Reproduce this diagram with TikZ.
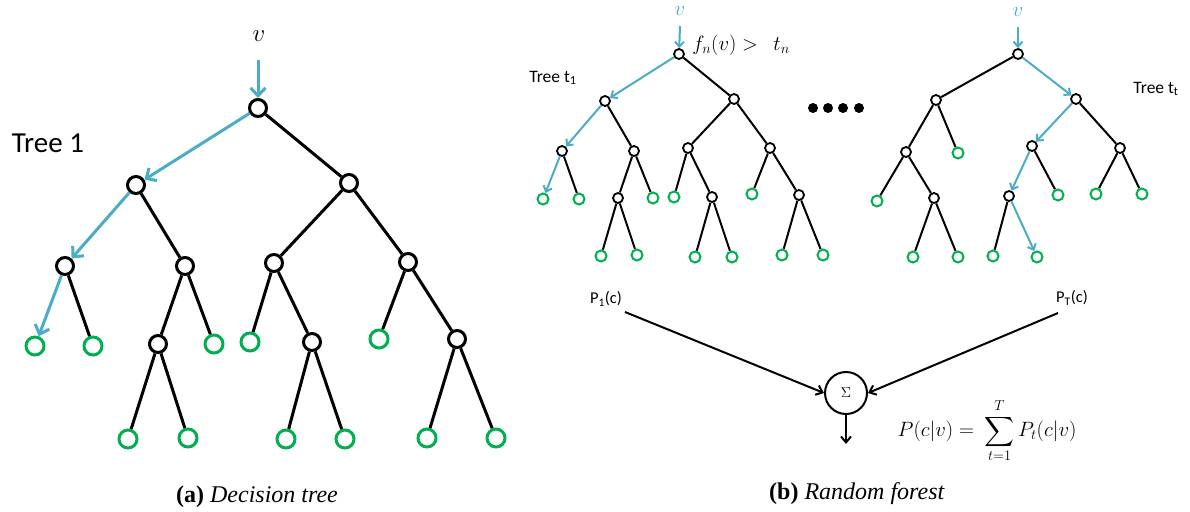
\documentclass[tikz,border=0pt]{standalone}
\usepackage{fontspec}
\usepackage{amsmath}
\setmainfont{Liberation Serif}
\newfontfamily\calibri{Carlito}
\usetikzlibrary{arrows.meta}
\definecolor{pathblue}{HTML}{4BACC6}
\definecolor{leafgreen}{HTML}{00B050}
\begin{document}
\begin{tikzpicture}[x=1pt,y=-1pt,
  bin/.style={circle,draw=black,line width=3pt,minimum size=17pt,inner sep=0pt,fill=white},
  blf/.style={circle,draw=leafgreen,line width=3pt,minimum size=18pt,inner sep=0pt},
  sin/.style={circle,draw=black,line width=1.8pt,minimum size=10pt,inner sep=0pt,fill=white},
  slf/.style={circle,draw=leafgreen,line width=2pt,minimum size=11pt,inner sep=0pt},
  bedge/.style={draw=black,line width=3pt},
  bblue/.style={draw=pathblue,line width=3pt,-{Straight Barb[length=8pt,width=15pt]}},
  sedge/.style={draw=black,line width=2pt},
  sblue/.style={draw=pathblue,line width=2pt,-{Straight Barb[length=5pt,width=9pt]}},
  karrow/.style={draw=black,line width=2pt,-{Straight Barb[length=6pt,width=10pt]}},
  cal/.style={font=\calibri\fontsize{#1}{#1}\selectfont},
  dotnode/.style={circle,fill=black,minimum size=10pt,inner sep=0pt}
]
\useasboundingbox (0,0) rectangle (1190,511);

% ===== Left decision tree =====
\node[font=\fontsize{37}{37}\selectfont] (vL) at (259,36) {$v$};
\coordinate (vLs) at (258,60);
\node[cal=29] (tree1) at (48,143) {Tree 1};
\node[bin] (r) at (258,108) {};
\node[bin] (a) at (136,185) {};
\node[bin] (b) at (349,183) {};
\node[bin] (aa) at (65,266) {};
\node[bin] (ab) at (185,266) {};
\node[bin] (ba) at (274,263) {};
\node[bin] (bb) at (408,262) {};
\node[blf] (aa1) at (35,346) {};
\node[blf] (aa2) at (93,346) {};
\node[bin] (ab1) at (158,344) {};
\node[blf] (ab2) at (214,344) {};
\node[blf] (ba1) at (250,342) {};
\node[bin] (ba2) at (312,342) {};
\node[blf] (bb1) at (379,339) {};
\node[bin] (bb2) at (457,339) {};
\node[blf] (ab11) at (128,439) {};
\node[blf] (ab12) at (188,438) {};
\node[blf] (ba21) at (286,439) {};
\node[blf] (ba22) at (345,439) {};
\node[blf] (bb21) at (427,438) {};
\node[blf] (bb22) at (496,438) {};
\path[bblue] (vLs) -- (r);
\path[bblue] (r) -- (a);
\path[bblue] (a) -- (aa);
\path[bblue] (aa) -- (aa1);
\path[bedge] (r) -- (b);
\path[bedge] (a) -- (ab);
\path[bedge] (b) -- (ba);
\path[bedge] (b) -- (bb);
\path[bedge] (aa) -- (aa2);
\path[bedge] (ab) -- (ab1);
\path[bedge] (ab) -- (ab2);
\path[bedge] (ba) -- (ba1);
\path[bedge] (ba) -- (ba2);
\path[bedge] (bb) -- (bb1);
\path[bedge] (bb) -- (bb2);
\path[bedge] (ab1) -- (ab11);
\path[bedge] (ab1) -- (ab12);
\path[bedge] (ba2) -- (ba21);
\path[bedge] (ba2) -- (ba22);
\path[bedge] (bb2) -- (bb21);
\path[bedge] (bb2) -- (bb22);
\node[font=\fontsize{24}{28}\selectfont] (capa) at (257,497) {\textbf{(a)} \textit{Decision tree}};

% ===== Random forest: tree t1 =====
\node[font=\fontsize{22}{22}\selectfont,text=pathblue] (v1) at (680,11) {$v$};
\coordinate (v1s) at (680,26);
\node[font=\fontsize{19.5}{19.5}\selectfont] (fn) at (741,45) {$f_n(v) >\ \ t_n$};
\node[cal=17.5] (tt1) at (553,78) {Tree t\textsubscript{1}};
\node[sin] (R) at (679,54) {};
\node[sin] (A) at (605,101) {};
\node[sin] (B) at (734,99) {};
\node[sin] (AL) at (562,151) {};
\node[sin] (AR) at (634,151) {};
\node[sin] (BL) at (688,148) {};
\node[sin] (BR) at (770,148) {};
\node[slf] (AL1) at (543,199) {};
\node[slf] (AL2) at (579,199) {};
\node[sin] (AR1) at (618,198) {};
\node[slf] (AR2) at (653,198) {};
\node[slf] (BL1) at (674,197) {};
\node[sin] (BL2) at (712,197) {};
\node[slf] (BR1) at (752,194) {};
\node[sin] (BR2) at (799,195) {};
\node[slf] (AR11) at (601,256) {};
\node[slf] (AR12) at (637,255) {};
\node[slf] (BL21) at (695,257) {};
\node[slf] (BL22) at (732,257) {};
\node[slf] (BR21) at (782,255) {};
\node[slf] (BR22) at (823,255) {};
\path[sblue] (v1s) -- (R);
\path[sblue] (R) -- (A);
\path[sblue] (A) -- (AL);
\path[sblue] (AL) -- (AL1);
\path[sedge] (R) -- (B);
\path[sedge] (A) -- (AR);
\path[sedge] (B) -- (BL);
\path[sedge] (B) -- (BR);
\path[sedge] (AL) -- (AL2);
\path[sedge] (AR) -- (AR1);
\path[sedge] (AR) -- (AR2);
\path[sedge] (BL) -- (BL1);
\path[sedge] (BL) -- (BL2);
\path[sedge] (BR) -- (BR1);
\path[sedge] (BR) -- (BR2);
\path[sedge] (AR1) -- (AR11);
\path[sedge] (AR1) -- (AR12);
\path[sedge] (BL2) -- (BL21);
\path[sedge] (BL2) -- (BL22);
\path[sedge] (BR2) -- (BR21);
\path[sedge] (BR2) -- (BR22);

% dots
\node[dotnode] (d1) at (813,108) {};
\node[dotnode] (d2) at (828,108) {};
\node[dotnode] (d3) at (843,108) {};
\node[dotnode] (d4) at (859,108) {};

% ===== Random forest: tree tt =====
\node[font=\fontsize{22}{22}\selectfont,text=pathblue] (v2) at (1018,12) {$v$};
\coordinate (v2s) at (1018,27);
\node[cal=17.5] (ttt) at (1156,89) {Tree t\textsubscript{t}};
\node[sin] (Q) at (1018,54) {};
\node[sin] (C) at (936,100) {};
\node[sin] (D) at (1076,99) {};
\node[sin] (CL) at (906,152) {};
\node[slf] (CR) at (958,153) {};
\node[slf] (CL1) at (877,201) {};
\node[sin] (CL2) at (934,198) {};
\node[slf] (CL21) at (913,257) {};
\node[slf] (CL22) at (958,257) {};
\node[sin] (DL) at (1032,146) {};
\node[sin] (DR) at (1120,148) {};
\node[sin] (DL1) at (1009,196) {};
\node[slf] (DL2) at (1058,195) {};
\node[slf] (DR1) at (1096,194) {};
\node[slf] (DR2) at (1142,194) {};
\node[slf] (DL11) at (993,256) {};
\node[slf] (DL12) at (1037,257) {};
\path[sblue] (v2s) -- (Q);
\path[sblue] (Q) -- (D);
\path[sblue] (D) -- (DL);
\path[sblue] (DL) -- (DL1);
\path[sblue] (DL1) -- (DL12);
\path[sedge] (Q) -- (C);
\path[sedge] (C) -- (CL);
\path[sedge] (C) -- (CR);
\path[sedge] (CL) -- (CL1);
\path[sedge] (CL) -- (CL2);
\path[sedge] (CL2) -- (CL21);
\path[sedge] (CL2) -- (CL22);
\path[sedge] (D) -- (DR);
\path[sedge] (DL) -- (DL2);
\path[sedge] (DR) -- (DR1);
\path[sedge] (DR) -- (DR2);
\path[sedge] (DL1) -- (DL11);

% ===== Aggregation =====
\node[cal=16.5] (p1) at (606,299) {P\textsubscript{1}(c)};
\node[cal=16.5] (pT) at (1072,298) {P\textsubscript{T}(c)};
\coordinate (p1s) at (625,312);
\coordinate (pTs) at (1058,313);
\node[circle,draw=black,line width=2pt,minimum size=42pt,inner sep=0pt,font=\fontsize{15}{15}\selectfont] (sig) at (846,393) {$\Sigma$};
\coordinate (out) at (846,444);
\path[karrow] (p1s) -- (sig.west);
\path[karrow] (pTs) -- (sig.east);
\path[karrow] (sig.south) -- (out);
\node[font=\fontsize{19.5}{19.5}\selectfont,inner sep=0pt] (eq) at (987,431) {$P(c|v) =\ \displaystyle\sum_{t=1}^{T} P_t(c|v)$};
\node[font=\fontsize{24}{28}\selectfont] (capb) at (857,494) {\textbf{(b)} \textit{Random forest}};
\end{tikzpicture}
\end{document}
